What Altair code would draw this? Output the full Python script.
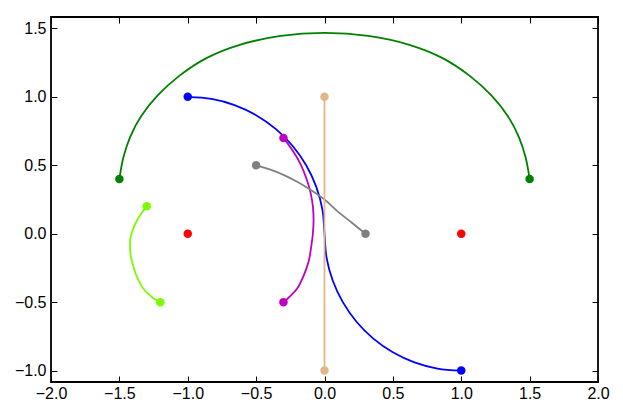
import altair as alt
import pandas as pd

# ---- data ----
green_x = [-1.5, -1.47, -1.42, -1.34, -1.22, -1.06, -0.86, -0.62, -0.32, 0.0, 0.32, 0.62, 0.86, 1.06, 1.22, 1.34, 1.42, 1.47, 1.5]
green_y = [0.4, 0.56, 0.71, 0.86, 1.01, 1.155, 1.285, 1.38, 1.445, 1.467, 1.445, 1.38, 1.285, 1.155, 1.01, 0.86, 0.71, 0.56, 0.4]

blue_x = [-1.0, -0.826, -0.658, -0.5, -0.357, -0.234, -0.134, -0.06, -0.015, 0.0,
          0.015, 0.06, 0.134, 0.234, 0.357, 0.5, 0.658, 0.826, 1.0]
blue_y = [1.0, 0.985, 0.94, 0.866, 0.766, 0.643, 0.5, 0.342, 0.174, 0.0,
          -0.174, -0.342, -0.5, -0.643, -0.766, -0.866, -0.94, -0.985, -1.0]

magenta_x = [-0.3, -0.228, -0.171, -0.131, -0.102, -0.085, -0.08, -0.085, -0.098, -0.115, -0.15, -0.2, -0.245, -0.3]
magenta_y = [0.7, 0.6, 0.5, 0.4, 0.3, 0.2, 0.1, 0.0, -0.1, -0.2, -0.3, -0.4, -0.45, -0.5]

gray_x = [-0.5, -0.4, -0.3, -0.2, -0.1, 0.0, 0.1, 0.2, 0.3]
gray_y = [0.5, 0.47, 0.43, 0.38, 0.32, 0.25, 0.16, 0.08, 0.0]

tan_x = [0.0, 0.0]
tan_y = [1.0, -1.0]

lime_x = [-1.3, -1.345, -1.38, -1.405, -1.42, -1.422, -1.415, -1.395, -1.365, -1.325, -1.265, -1.2]
lime_y = [0.2, 0.14, 0.08, 0.02, -0.04, -0.1, -0.17, -0.25, -0.33, -0.4, -0.46, -0.5]

red_x = [-1.0, 1.0]
red_y = [0.0, 0.0]

x_ticks = [-2.0, -1.5, -1.0, -0.5, 0.0, 0.5, 1.0, 1.5, 2.0]
y_ticks = [-1.0, -0.5, 0.0, 0.5, 1.0, 1.5]

curves = [
    ("green", green_x, green_y),
    ("blue", blue_x, blue_y),
    ("magenta", magenta_x, magenta_y),
    ("gray", gray_x, gray_y),
    ("tan", tan_x, tan_y),
    ("lime", lime_x, lime_y),
]
color_domain = ["green", "blue", "magenta", "gray", "tan", "lime", "red"]
color_range = ["#008000", "#0000ff", "#bf00bf", "#808080", "#deb887", "#7cfc00", "#ff0000"]

line_rows = []
point_rows = []
for name, xs, ys in curves:
    for i, (x, y) in enumerate(zip(xs, ys)):
        line_rows.append({"curve": name, "i": i, "x": x, "y": y})
    point_rows.append({"curve": name, "x": xs[0], "y": ys[0]})
    point_rows.append({"curve": name, "x": xs[-1], "y": ys[-1]})
for x, y in zip(red_x, red_y):
    point_rows.append({"curve": "red", "x": x, "y": y})

lines_df = pd.DataFrame(line_rows)
points_df = pd.DataFrame(point_rows)

xscale = alt.Scale(domain=[-2, 2], nice=False, zero=False)
yscale = alt.Scale(domain=[-1.0833, 1.5833], nice=False, zero=False)
cscale = alt.Scale(domain=color_domain, range=color_range)

font = "Liberation Sans"
common = dict(domain=False, grid=False, tickSize=6, offset=-6, tickColor="black",
              tickWidth=1, labelFont=font, labelFontSize=16, labelColor="black",
              labelFlush=False, labelOverlap=False, title=None)

x_bottom = alt.Axis(orient="bottom", values=x_ticks, format=".1f", labelPadding=3, **common)
y_left = alt.Axis(orient="left", values=y_ticks, format=".1f", labelPadding=5, **common)
x_top = alt.Axis(orient="top", values=x_ticks, labels=False, **common)
y_right = alt.Axis(orient="right", values=y_ticks, labels=False, **common)

lines = alt.Chart(lines_df).mark_line(strokeWidth=1.8, interpolate="catmull-rom").encode(
    x=alt.X("x:Q", scale=xscale, axis=x_bottom),
    y=alt.Y("y:Q", scale=yscale, axis=y_left),
    color=alt.Color("curve:N", scale=cscale, legend=None),
    detail="curve:N",
    order=alt.Order("i:Q"),
)

points = alt.Chart(points_df).mark_circle(size=72, opacity=1).encode(
    x=alt.X("x:Q", scale=xscale, axis=x_top),
    y=alt.Y("y:Q", scale=yscale, axis=y_right),
    color=alt.Color("curve:N", scale=cscale, legend=None),
)

chart = alt.layer(lines, points).resolve_axis(x="independent", y="independent").properties(
    width=547,
    height=365,
    autosize=alt.AutoSizeParams(type="none"),
    padding={"left": 43, "top": 9, "right": 12, "bottom": 22},
).configure_view(stroke="black", strokeWidth=1.8)

chart.save("out.html", embed_options={"renderer": "svg", "actions": False})
